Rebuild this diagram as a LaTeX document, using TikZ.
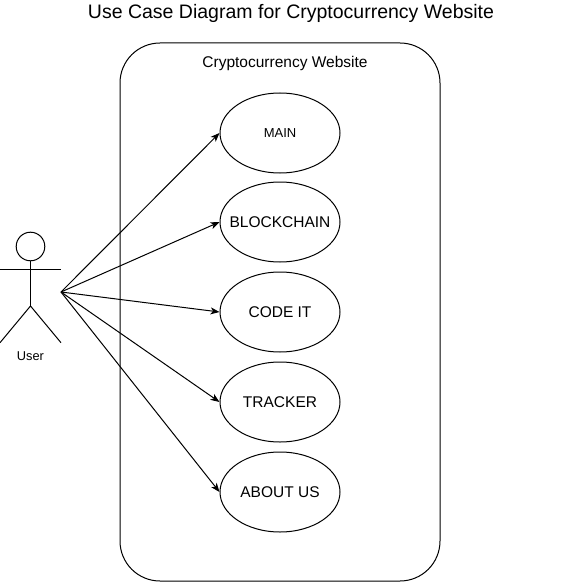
\documentclass[tikz,border=0pt]{standalone}
\usepackage{fontspec}
\setmainfont{Liberation Sans}
\usetikzlibrary{arrows.meta,shapes.geometric}
\begin{document}
\begin{tikzpicture}[x=1pt,y=-1pt,line width=1pt,
  usecase/.style={draw,ellipse,minimum width=120pt,minimum height=80pt,inner xsep=-12pt,inner ysep=0pt,font=\fontsize{15.5}{18}\selectfont},
  assoc/.style={-{Stealth[length=9pt,width=7pt,inset=2.5pt]}},
  figline/.style={line width=1pt}]
\useasboundingbox (0,0) rectangle (561,583);
% title
\node (title) at (291,13) {\fontsize{19.5}{23}\selectfont Use Case Diagram for Cryptocurrency Website};
% system boundary
\node[draw,rounded corners=40pt,minimum width=320pt,minimum height=538pt,inner sep=0pt] (sys) at (280,312) {};
\node (syslabel) at (285,63) {\fontsize{15.5}{18}\selectfont Cryptocurrency Website};
% use cases
\node[usecase,font=\fontsize{13}{16}\selectfont] (main) at (280,133) {MAIN};
\node[usecase] (block) at (280,222) {BLOCKCHAIN};
\node[usecase] (code) at (280,312) {CODE IT};
\node[usecase] (track) at (280,402) {TRACKER};
\node[usecase] (about) at (280,492) {ABOUT US};
% actor
\draw[figline] (30.5,246.5) circle (14.3pt);
\draw[figline] (30.5,260.8) -- (30.5,306);
\draw[figline] (0,269) -- (61,269);
\draw[figline] (0,342.7) -- (30.5,306) -- (61,342.7);
\coordinate (user) at (61,292);
\node (userlabel) at (30.5,356.5) {\fontsize{12.8}{15}\selectfont User};
% associations
\foreach \t in {main,block,code,track,about}
  \draw[assoc] (user) -- (\t.west);
\end{tikzpicture}
\end{document}
